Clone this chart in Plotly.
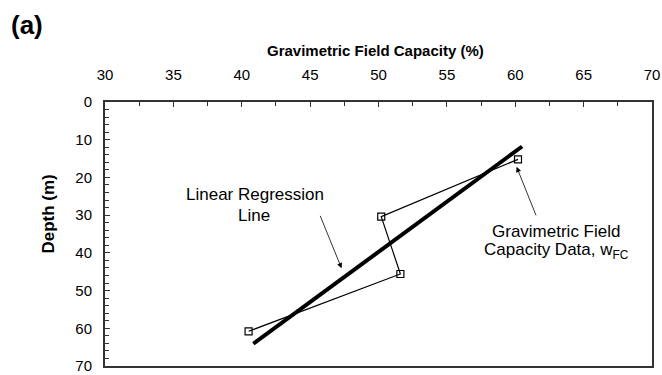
import plotly.graph_objects as go

# Data
wfc = [60.2, 50.2, 51.6, 40.5]          # gravimetric field capacity (%)
depth = [15.2, 30.4, 45.6, 60.8]        # depth (m)
reg_wfc = [60.5, 40.85]                 # regression line end points
reg_depth = [11.8, 64.1]
x_ticks = [30, 35, 40, 45, 50, 55, 60, 65, 70]
y_ticks = [0, 10, 20, 30, 40, 50, 60, 70]

FONT = "Arial, Liberation Sans, sans-serif"

fig = go.Figure()
fig.add_trace(go.Scatter(
    x=wfc, y=depth, mode="lines+markers",
    line=dict(color="black", width=1.2),
    marker=dict(symbol="square-open", size=7, color="black", line=dict(width=1.2)),
    showlegend=False, hoverinfo="skip"))
fig.add_trace(go.Scatter(
    x=reg_wfc, y=reg_depth, mode="lines",
    line=dict(color="black", width=4),
    showlegend=False, hoverinfo="skip"))

axis_common = dict(showgrid=False, zeroline=False, showline=True, linecolor="#333",
                   linewidth=2, mirror=True, ticks="inside", ticklen=5, tickwidth=1,
                   tickcolor="#333", ticklabeloverflow="allow", automargin=False,
                   tickfont=dict(family=FONT, size=15, color="black"))

fig.update_xaxes(range=[30, 70], side="top", tickvals=x_ticks, ticktext=[str(v) for v in x_ticks],
                 minor=dict(dtick=2.5, ticks="inside", ticklen=4, tickcolor="#333"),
                 ticklabelstandoff=14, **axis_common)
fig.update_yaxes(range=[70, 0], tickvals=y_ticks, ticktext=[str(v) for v in y_ticks],
                 minor=dict(dtick=2, ticks="inside", ticklen=4, tickcolor="#333"),
                 ticklabelstandoff=8, **axis_common)

ann_font = dict(family=FONT, size=17, color="black")
annotations = [
    # panel label
    dict(text="<b>(a)</b>", xref="paper", yref="paper", x=-0.176, y=1, xanchor="left",
         yanchor="middle", yshift=77, showarrow=False, font=dict(family=FONT, size=26, color="black")),
    # x title
    dict(text="<b>Gravimetric Field Capacity (%)</b>", xref="paper", yref="paper", x=0.494, y=1,
         xanchor="center", yanchor="middle", yshift=52, showarrow=False,
         font=dict(family=FONT, size=15, color="black")),
    # y title
    dict(text="<b>Depth (m)</b>", xref="paper", yref="paper", x=-0.104, y=0.574,
         xanchor="center", yanchor="middle", textangle=-90, showarrow=False,
         font=dict(family=FONT, size=17, color="black")),
    # regression label
    dict(text="Linear Regression", x=40.97, y=24.5, xanchor="center", yanchor="middle",
         showarrow=False, font=ann_font),
    dict(text="Line", x=40.9, y=30.2, xanchor="center", yanchor="middle",
         showarrow=False, font=ann_font),
    dict(text="", x=47.3, y=44.1, ax=-22, ay=-54, showarrow=True, arrowhead=2,
         arrowsize=1.3, arrowwidth=0.8, arrowcolor="black"),
    # data label
    dict(text="Gravimetric Field", x=63.0, y=34.4, xanchor="center", yanchor="middle",
         showarrow=False, font=ann_font),
    dict(text="Capacity Data, w<sub>FC</sub>", x=63.0, y=39.6, xanchor="center", yanchor="middle",
         showarrow=False, font=ann_font),
    dict(text="", x=60.1, y=17.2, ax=20, ay=50, showarrow=True, arrowhead=2,
         arrowsize=1.3, arrowwidth=0.8, arrowcolor="black"),
]

fig.update_layout(
    width=662, height=375,
    margin=dict(l=105, r=10, t=102, b=9),
    paper_bgcolor="white", plot_bgcolor="white",
    annotations=annotations,
    font=dict(family=FONT, color="black"),
)

fig.write_html("out.html")
